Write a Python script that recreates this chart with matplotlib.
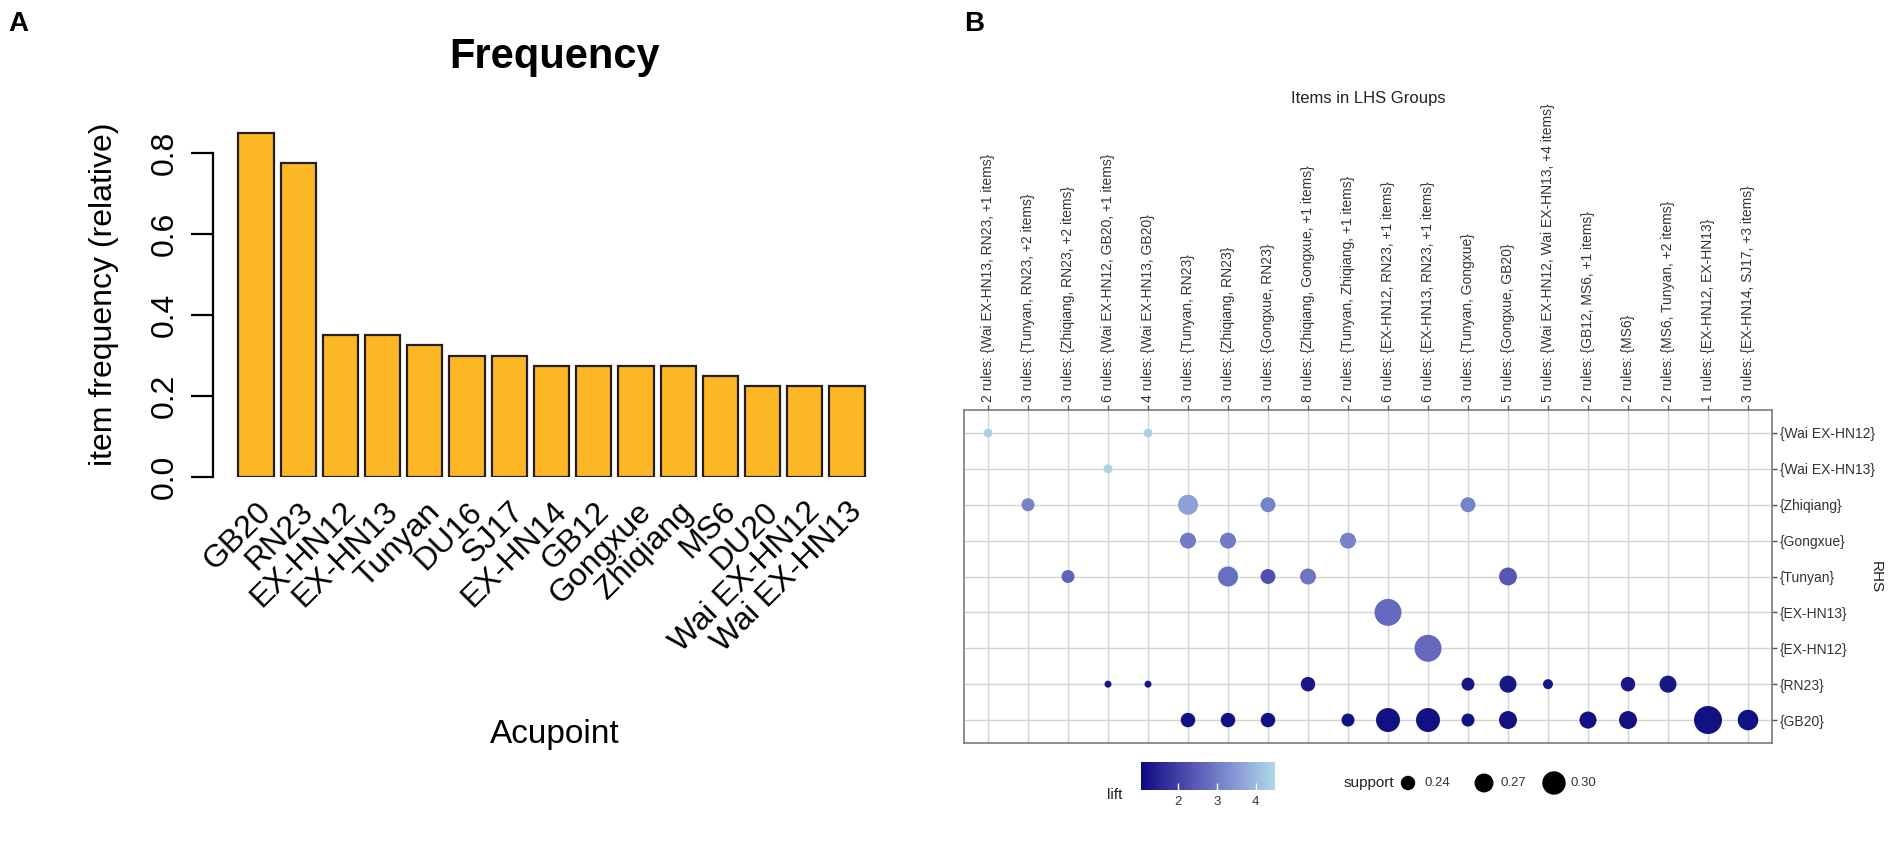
import matplotlib
matplotlib.use('Agg')
import matplotlib.pyplot as plt
from matplotlib.colors import LinearSegmentedColormap, Normalize
from matplotlib.cm import ScalarMappable

plt.rcParams['font.family'] = ['Liberation Sans', 'DejaVu Sans']

W, H = 1901, 842

# ---- panel A data: relative item frequency
acupoints = ['GB20', 'RN23', 'EX-HN12', 'EX-HN13', 'Tunyan', 'DU16', 'SJ17',
             'EX-HN14', 'GB12', 'Gongxue', 'Zhiqiang', 'MS6', 'DU20',
             'Wai EX-HN12', 'Wai EX-HN13']
item_freq = [0.85, 0.775, 0.35, 0.35, 0.325, 0.30, 0.30,
             0.275, 0.275, 0.275, 0.275, 0.25, 0.225, 0.225, 0.225]

# ---- panel B data: grouped matrix of rules
lhs_groups = [
    '2 rules: {Wai EX-HN13, RN23, +1 items}',
    '3 rules: {Tunyan, RN23, +2 items}',
    '3 rules: {Zhiqiang, RN23, +2 items}',
    '6 rules: {Wai EX-HN12, GB20, +1 items}',
    '4 rules: {Wai EX-HN13, GB20}',
    '3 rules: {Tunyan, RN23}',
    '3 rules: {Zhiqiang, RN23}',
    '3 rules: {Gongxue, RN23}',
    '8 rules: {Zhiqiang, Gongxue, +1 items}',
    '2 rules: {Tunyan, Zhiqiang, +1 items}',
    '6 rules: {EX-HN12, RN23, +1 items}',
    '6 rules: {EX-HN13, RN23, +1 items}',
    '3 rules: {Tunyan, Gongxue}',
    '5 rules: {Gongxue, GB20}',
    '5 rules: {Wai EX-HN12, Wai EX-HN13, +4 items}',
    '2 rules: {GB12, MS6, +1 items}',
    '2 rules: {MS6}',
    '2 rules: {MS6, Tunyan, +2 items}',
    '1 rules: {EX-HN12, EX-HN13}',
    '3 rules: {EX-HN14, SJ17, +3 items}',
]
rhs_items = ['{Wai EX-HN12}', '{Wai EX-HN13}', '{Zhiqiang}', '{Gongxue}', '{Tunyan}',
             '{EX-HN13}', '{EX-HN12}', '{RN23}', '{GB20}']

# one entry per bubble: column (1-based LHS group), row (RHS index), support, lift
bub_col = [1, 5,
           4,
           2, 6, 8, 13,
           6, 7, 10,
           3, 7, 8, 9, 14,
           11,
           12,
           4, 5, 9, 13, 14, 15, 17, 18,
           6, 7, 8, 10, 11, 12, 13, 14, 16, 17, 19, 20]
bub_row = [0, 0,
           1,
           2, 2, 2, 2,
           3, 3, 3,
           4, 4, 4, 4, 4,
           5,
           6,
           7, 7, 7, 7, 7, 7, 7, 7,
           8, 8, 8, 8, 8, 8, 8, 8, 8, 8, 8, 8]
bub_support = [0.213, 0.213,
               0.213,
               0.240, 0.287, 0.253, 0.253,
               0.260, 0.260, 0.260,
               0.240, 0.287, 0.253, 0.260, 0.273,
               0.333,
               0.333,
               0.200, 0.200, 0.250, 0.240, 0.267, 0.220, 0.250, 0.267,
               0.250, 0.250, 0.250, 0.240, 0.313, 0.313, 0.240, 0.273, 0.267, 0.273, 0.340, 0.290]
bub_lift = [4.4, 4.4,
            4.4,
            3.1, 3.6, 3.1, 3.1,
            3.0, 3.0, 3.1,
            2.6, 2.8, 2.3, 2.9, 2.4,
            2.7,
            2.7,
            1.25, 1.25, 1.25, 1.25, 1.25, 1.25, 1.25, 1.25,
            1.15, 1.15, 1.15, 1.15, 1.15, 1.15, 1.15, 1.15, 1.15, 1.15, 1.15, 1.15]
support_legend = [0.24, 0.27, 0.30]
lift_ticks = [2, 3, 4]


def box(x0, y0, x1, y1):
    # pixel box (top-left origin) -> figure fraction rect
    return [x0 / W, 1 - y1 / H, (x1 - x0) / W, (y1 - y0) / H]


def dot_area(s):
    d_px = 7 + 150 * (s - 0.2)
    return (d_px * 0.72) ** 2


fig = plt.figure(figsize=(W / 100, H / 100), dpi=100)

# ---------------- panel A
ax1 = fig.add_axes(box(213, 112.5, 897, 477))
xpos = [0.7 + 1.2 * i for i in range(len(acupoints))]
ax1.bar(xpos, item_freq, width=1.0, color='#FDB725', edgecolor='#231F20', linewidth=1.6)
ax1.set_xlim(-0.52, 18.92)
ax1.set_ylim(0, 0.9)
for sp in ['top', 'right', 'bottom']:
    ax1.spines[sp].set_visible(False)
ax1.spines['left'].set_bounds(0, 0.8)
ax1.spines['left'].set_linewidth(1.6)
ax1.set_yticks([0.0, 0.2, 0.4, 0.6, 0.8])
ax1.set_yticklabels(['0.0', '0.2', '0.4', '0.6', '0.8'], rotation=90, va='center')
ax1.tick_params(axis='y', length=16, width=1.6, labelsize=23, pad=8)
ax1.set_xticks(xpos)
ax1.set_xticklabels(acupoints, rotation=45, ha='right', rotation_mode='anchor')
ax1.tick_params(axis='x', length=0, labelsize=23, pad=14)
ax1.set_ylabel('item frequency (relative)', fontsize=23, labelpad=22)
fig.text(555 / W, 1 - 57 / H, 'Frequency', fontsize=30, fontweight='bold', ha='center', va='center')
fig.text(555 / W, 1 - 734 / H, 'Acupoint', fontsize=24, ha='center', va='center')
fig.text(18 / W, 1 - 24 / H, 'A', fontsize=20, fontweight='bold', ha='center', va='center')
fig.text(974 / W, 1 - 24 / H, 'B', fontsize=20, fontweight='bold', ha='center', va='center')

# ---------------- panel B
cmap = LinearSegmentedColormap.from_list(
    'lift', [(0.0, '#0B0B80'), (0.42, '#5A5CB6'), (0.72, '#8A9CD6'), (1.0, '#ADD8E6')])
norm = Normalize(vmin=1.03, vmax=4.5)

ax2 = fig.add_axes(box(964, 410, 1772, 743))
ax2.scatter(bub_col, bub_row, s=[dot_area(s) for s in bub_support],
            c=bub_lift, cmap=cmap, norm=norm, edgecolors='none', zorder=3)
ax2.set_xlim(0.4, 20.6)
ax2.set_ylim(8.64, -0.64)
ax2.set_xticks(range(1, len(lhs_groups) + 1))
ax2.set_xticklabels(lhs_groups, rotation=90, fontsize=10, color='#333333')
ax2.xaxis.tick_top()
ax2.set_yticks(range(len(rhs_items)))
ax2.set_yticklabels(rhs_items, fontsize=10, color='#333333')
ax2.yaxis.tick_right()
ax2.tick_params(length=3.5, width=1, color='#555555', pad=2)
ax2.grid(True, color='#D4D4D4', linewidth=1.0)
ax2.set_axisbelow(True)
for sp in ax2.spines.values():
    sp.set_color('#7A7A7A')
    sp.set_linewidth(1.2)
fig.text(1368 / W, 1 - 99 / H, 'Items in LHS Groups', fontsize=12, color='#222222',
         ha='center', va='center')
fig.text(1876 / W, 1 - 577 / H, 'RHS', fontsize=11, color='#222222', rotation=270,
         ha='center', va='center')

# lift colour bar
cax = fig.add_axes(box(1141, 762, 1275, 790))
cb = fig.colorbar(ScalarMappable(norm=norm, cmap=cmap), cax=cax, orientation='horizontal',
                  ticks=lift_ticks)
cb.outline.set_visible(False)
cax.tick_params(length=5, width=1, color='white', direction='in', labelsize=9.5,
                labelcolor='#333333', pad=4)
fig.text(1107 / W, 1 - 795 / H, 'lift', fontsize=11, color='#222222', ha='left', va='center')

# support legend
lax = fig.add_axes(box(1330, 763, 1620, 803))
lax.set_xlim(1330, 1620)
lax.set_ylim(803, 763)
lax.axis('off')
leg_x = [1408, 1484, 1554]
lax.scatter(leg_x, [783] * 3, s=[dot_area(s) for s in support_legend], color='black')
for x, v in zip(leg_x, support_legend):
    lax.text(x + 16, 783, '%.2f' % v, fontsize=9.5, color='#333333', va='center', ha='left')
fig.text(1344 / W, 1 - 783 / H, 'support', fontsize=11, color='#222222', ha='left', va='center')

fig.savefig('out.png', dpi=100)
